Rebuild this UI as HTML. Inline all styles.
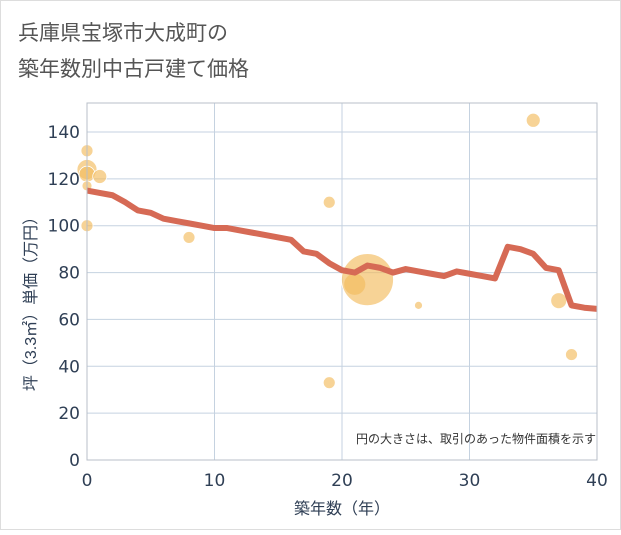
<!DOCTYPE html>
<html><head><meta charset="utf-8"><style>
body{margin:0;background:#fff;}
svg text{font-family:"DejaVu Sans","Liberation Sans","Noto Sans CJK JP",sans-serif;}
.cjk{font-family:"Liberation Sans","Noto Sans CJK JP",sans-serif !important;}
</style></head><body>
<svg id="c" width="621" height="530" viewBox="0 0 621 530">
<rect x="0.5" y="0.5" width="620" height="529" fill="#fff" stroke="#ddd"/>
<text class="cjk" x="18" y="40" font-size="21" fill="#555">兵庫県宝塚市大成町の</text>
<text class="cjk" x="18" y="76" font-size="21" fill="#555">築年数別中古戸建て価格</text>
<g id="grid"></g><g id="bubbles"></g><g id="line"></g><g id="axes"></g>
<text class="cjk" x="596" y="443" font-size="12" fill="#333" text-anchor="end">円の大きさは、取引のあった物件面積を示す</text>
<text class="cjk" x="342" y="514" font-size="16" fill="#2f3f55" text-anchor="middle">築年数（年）</text>
<text class="cjk" transform="translate(36,300) rotate(-90)" font-size="16" fill="#2f3f55" text-anchor="middle">坪（3.3㎡）単価（万円）</text>
</svg>
<script>
const xTicks=[0,10,20,30,40];
const yTicks=[0,20,40,60,80,100,120,140];
const lineYears=[0,1,2,3,4,5,6,7,8,9,10,11,12,13,14,15,16,17,18,19,20,21,22,23,24,25,26,27,28,29,30,31,32,33,34,35,36,37,38,39,40];
const lineValues=[115,114,113,110,106.5,105.5,103,102,101,100,99,99,98,97,96,95,94,89,88,84,81,80,83,82,80,81.5,80.5,79.5,78.5,80.5,79.5,78.5,77.5,91,90,88,82,81,66,65,64.5];
const bubbleYears=[0,0,0,1,0,0,8,19,19,21,22,26,35,37,38];
const bubbleValues=[132,124,122,121,117,100,95,110,33,75,77,66,145,68,45];
const bubbleSizes=[6,10,8,7,5,6,6,6,6,11,26,4,7,8,6];
const X0=87,X1=597,Y0=460,YTOP=103;
const sx=v=>X0+(v-0)/(40-0)*(X1-X0);
const sy=v=>Y0-v*(Y0-132)/140;
const NS="http://www.w3.org/2000/svg";
function mk(t,a,p){const e=document.createElementNS(NS,t);for(const k in a)e.setAttribute(k,a[k]);p.appendChild(e);return e;}
const g=document.getElementById('grid'),ax=document.getElementById('axes');
xTicks.forEach(t=>{const l=mk('line',{x1:sx(t),x2:sx(t),y1:YTOP,y2:Y0,stroke:'#c5d2e0','stroke-width':1},g);


const tx=mk('text',{x:sx(t),y:Y0+26,'font-size':17,fill:'#2f3f55','text-anchor':'middle'},ax);tx.textContent=t;

});
yTicks.forEach(t=>{const l=mk('line',{x1:X0,x2:X1,y1:sy(t),y2:sy(t),stroke:'#c5d2e0','stroke-width':1},g);


const tx=mk('text',{x:X0-7,y:sy(t)+6,'font-size':17,fill:'#2f3f55','text-anchor':'end'},ax);tx.textContent=t;

});
const fr=mk('rect',{x:X0,y:YTOP,width:X1-X0,height:Y0-YTOP,fill:'none',stroke:'#b8bfc8','stroke-width':1},ax);


const b=document.getElementById('bubbles');
bubbleYears.forEach((yr,i)=>{const c=mk('circle',{cx:sx(yr),cy:sy(bubbleValues[i]),r:bubbleSizes[i],fill:'#f3bb5e','fill-opacity':0.65,stroke:'#fff','stroke-width':0.8},b);

});
const pts=lineYears.map((y,i)=>sx(y)+','+sy(lineValues[i])).join(' ');
const pl=mk('polyline',{points:pts,fill:'none',stroke:'#d66a55','stroke-width':6,'stroke-linejoin':'round'},document.getElementById('line'));


</script>
</body></html>
